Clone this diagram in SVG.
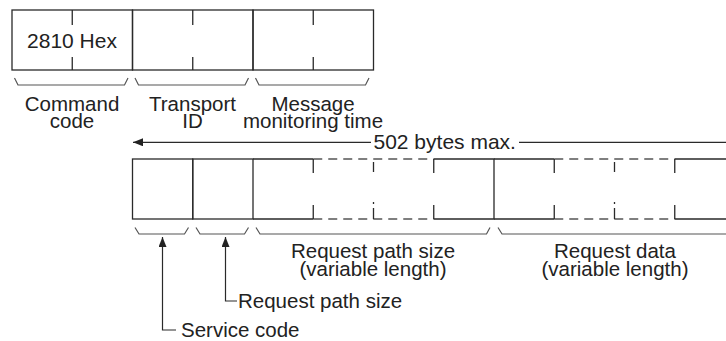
<svg xmlns="http://www.w3.org/2000/svg" width="726" height="341" viewBox="0 0 726 341">
<style>
.c{fill:none;stroke:#2a2a2a;stroke-width:1.3}
.d{fill:none;stroke:#555;stroke-width:1.3;stroke-dasharray:9 6}
.b{fill:none;stroke:#555;stroke-width:1.2}
.l{fill:none;stroke:#2a2a2a;stroke-width:1.2}
text{font-family:"Liberation Sans",Arial,sans-serif;font-size:20.5px;fill:#222}
.m{text-anchor:middle}
</style>
<defs>
<marker id="ah" viewBox="0 0 10 8" refX="10" refY="4" markerWidth="10" markerHeight="8" markerUnits="userSpaceOnUse" orient="auto">
<path d="M0,0 L10,4 L0,8 Z" fill="#222"/>
</marker>
</defs>
<rect width="726" height="341" fill="#fff"/>
<g id="header-row">
<g id="command-code">
<rect class="c" x="12" y="10" width="120.5" height="60"/>
<path class="c" d="M72.25,10 V25 M72.25,57 V70"/>
<text class="m" x="72" y="48" style="font-size:21px">2810 Hex</text>
</g>
<g id="transport-id">
<rect class="c" x="132.5" y="10" width="120.5" height="60"/>
<path class="c" d="M192.75,10 V25 M192.75,57 V70"/>
</g>
<g id="message-monitoring-time">
<rect class="c" x="253" y="10" width="120.5" height="60"/>
<path class="c" d="M313.25,10 V25 M313.25,57 V70"/>
</g>
<path class="b" d="M14.5,78 L18,85 L124.5,85 L128,78 M135,78 L138.5,85 L245,85 L248.5,78 M255.5,78 L259,85 L365.5,85 L369,78"/>
<text class="m" x="72" y="110.5">Command</text>
<text class="m" x="72" y="128">code</text>
<text class="m" x="192.5" y="110.5">Transport</text>
<text class="m" x="192.5" y="128">ID</text>
<text class="m" x="313" y="110.5">Message</text>
<text class="m" x="313" y="128">monitoring time</text>
</g>
<g id="data-row">
<g id="service-code-field">
<rect class="c" x="132.5" y="159" width="60.25" height="60"/>
</g>
<g id="request-path-size-field">
<rect class="c" x="192.75" y="159" width="60.25" height="60"/>
</g>
<g id="request-path-field">
<path class="c" d="M253,159 H313.25 M253,219 H313.25 M433.75,159 H494 V219 H433.75"/>
<path class="d" d="M313.25,159 H433.75 M313.25,219 H433.75"/>
<path class="c" d="M313.25,159 V173 M313.25,205 V219 M433.75,159 V173 M433.75,205 V219"/>
<path class="c" d="M373.5,162 V172 M373.5,202 V204 M373.5,208 V219"/>
</g>
<g id="request-data-field">
<path class="c" d="M494,159 H554.25 M494,219 H554.25 M674.75,159 H726 M674.75,219 H726"/>
<path class="d" d="M554.25,159 H674.75 M554.25,219 H674.75"/>
<path class="c" d="M554.25,159 V173 M554.25,205 V219 M674.75,159 V173 M674.75,205 V219"/>
<path class="c" d="M614.5,162 V172 M614.5,202 V204 M614.5,208 V219"/>
</g>
<path class="b" d="M135,227.5 L139,234 L184.5,234 L188.5,227.5 M196,227.5 L200,234 L244.5,234 L248.5,227.5 M256,227.5 L260,234 L486.5,234 L490,227.5 M498,227.5 L502,234 L726,234"/>
<text class="m" x="373" y="257.5">Request path size</text>
<text class="m" x="373" y="275.5">(variable length)</text>
<text class="m" x="615" y="257.5">Request data</text>
<text class="m" x="615" y="275.5">(variable length)</text>
</g>
<g id="connectors">
<path class="l" d="M371,142.3 H133" marker-end="url(#ah)"/>
<path class="l" d="M519,142.3 H726"/>
<path class="l" d="M237,301 H225.5 V237" marker-end="url(#ah)"/>
<path class="l" d="M176,330 H162.5 V237" marker-end="url(#ah)"/>
</g>
<text x="373.5" y="149" style="font-size:21px">502 bytes max.</text>
<text x="238" y="308">Request path size</text>
<text x="181" y="337">Service code</text>
</svg>
